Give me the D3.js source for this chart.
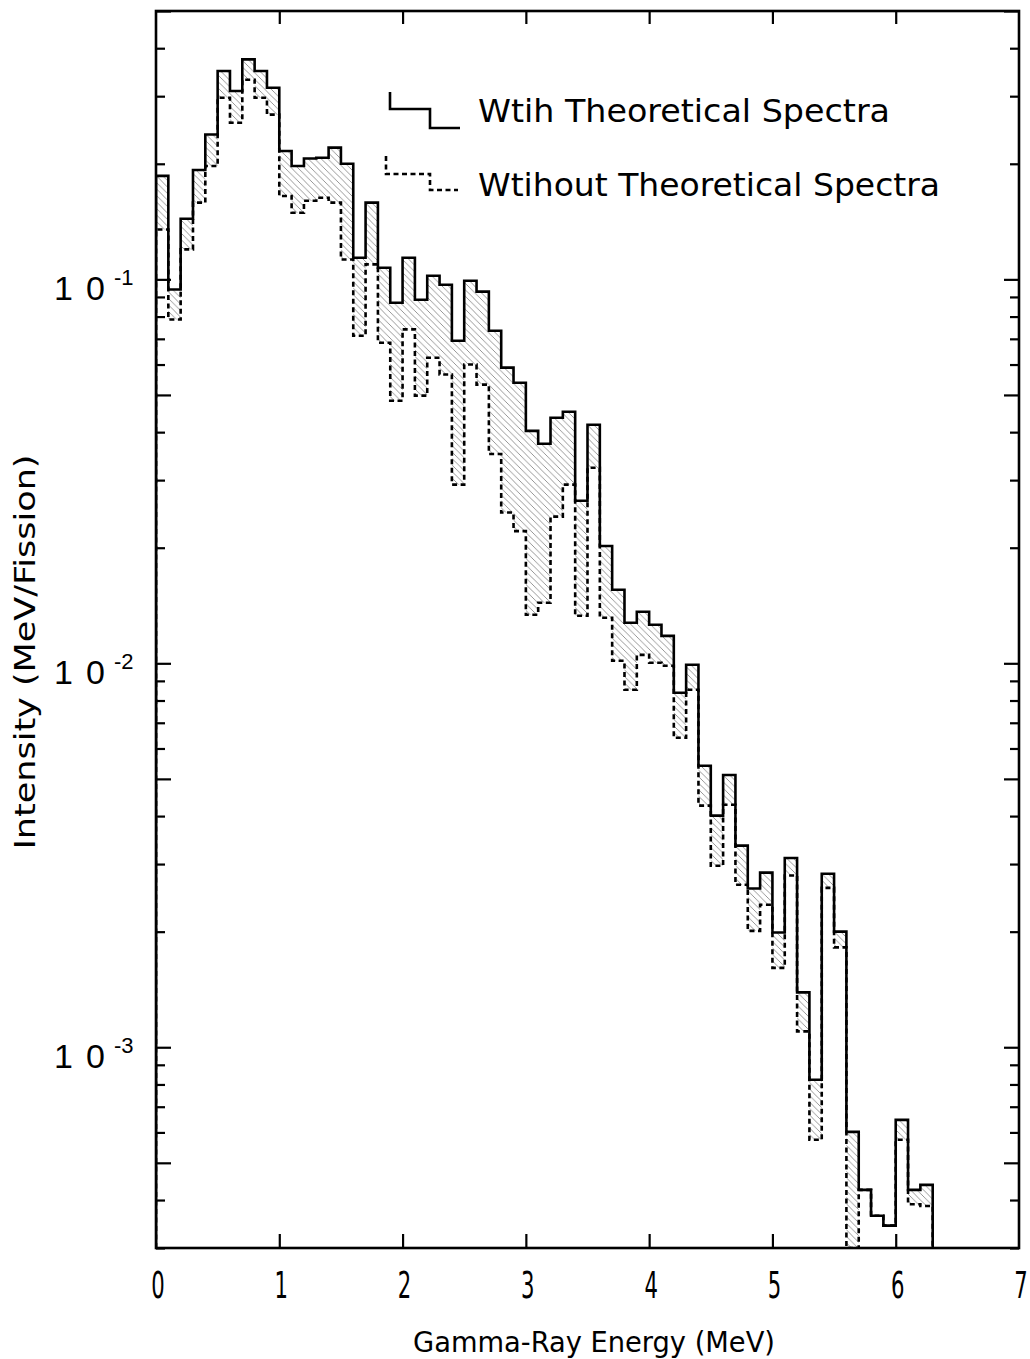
<!DOCTYPE html>
<html><head><meta charset="utf-8">
<script src="https://cdn.jsdelivr.net/npm/d3@7"></script>
<style>html,body{margin:0;padding:0;background:#fff;} svg{display:block;}</style>
</head><body><svg id="chart" width="1030" height="1359"></svg>
<script>
// ---- data ----
const binEdges = [0.0,0.1,0.2,0.3,0.4,0.5,0.6,0.7,0.8,0.9,1.0,1.1,1.2,1.3,1.4,1.5,1.6,1.7,1.8,1.9,
  2.0,2.1,2.2,2.3,2.4,2.5,2.6,2.7,2.8,2.9,3.0,3.1,3.2,3.3,3.4,3.5,3.6,3.7,3.8,3.9,
  4.0,4.1,4.2,4.3,4.4,4.5,4.6,4.7,4.8,4.9,5.0,5.1,5.2,5.3,5.4,5.5,5.6,5.7,5.8,5.9,
  6.0,6.1,6.2,6.3];
const withTheory = [0.186,0.0941,0.1438,0.1927,0.2385,0.3488,0.3094,0.374,0.349,0.3155,
  0.2159,0.1973,0.2065,0.2073,0.2203,0.200,0.1138,0.1584,0.1072,0.0869,
  0.1138,0.0885,0.1022,0.0968,0.0692,0.0992,0.0929,0.0735,0.0589,0.0538,
  0.0403,0.0373,0.0436,0.0452,0.0265,0.0418,0.0202,0.01554,0.01275,0.01362,
  0.0126,0.01179,0.00838,0.00991,0.00541,0.00401,0.00512,0.00335,0.00259,0.00285,
  0.00199,0.00311,0.00139,0.000823,0.00283,0.0020,0.000602,0.000425,0.000364,0.000343,
  0.000647,0.000425,0.000438];
const withoutTheory = [0.1349,0.0786,0.1197,0.1584,0.1973,0.2972,0.2559,0.3311,0.2972,0.2685,
  0.1649,0.1491,0.1603,0.1631,0.1584,0.1127,0.0713,0.1094,0.0684,0.0483,
  0.0741,0.0498,0.0625,0.0565,0.0292,0.060,0.0532,0.0351,0.0247,0.0221,
  0.01338,0.01438,0.0241,0.0292,0.0133,0.0323,0.01314,0.01015,0.00853,0.01052,
  0.01003,0.00985,0.0064,0.00853,0.00426,0.00297,0.00428,0.00265,0.00201,0.00235,
  0.00161,0.0028,0.0011,0.000574,0.0026,0.00182,0.00025,0.000425,0.000364,0.000343,
  0.000574,0.00039,0.000386];
const xTickValues = [0,1,2,3,4,5,6,7];
const yDecades = [1e-1,1e-2,1e-3];
const yDecadeDigits = ["1","0"];
const yDecadeExp = ["-1","-2","-3"];
const legendLabels = ["Wtih Theoretical Spectra","Wtihout Theoretical Spectra"];
const xTitle = "Gamma-Ray Energy (MeV)";
const yTitle = "Intensity (MeV/Fission)";

// ---- layout ----
const L = 156, R = 1019, T = 11, B = 1248;
const x = d3.scaleLinear().domain([0,7]).range([L,R]);
const y = d3.scaleLog().domain([3e-4,0.5]).range([B,T]).clamp(true);
const svg = d3.select("#chart");
const condensed = "'DejaVu Sans Condensed','Liberation Sans Narrow','Liberation Sans',sans-serif";

const defs = svg.append("defs");
defs.append("clipPath").attr("id","plotclip").append("rect")
  .attr("x",L).attr("y",T).attr("width",R-L).attr("height",B-T);
const pat = defs.append("pattern").attr("id","hatch").attr("patternUnits","userSpaceOnUse")
  .attr("width",6.5).attr("height",6.5);
pat.append("path").attr("d","M-1,-1 L7.5,7.5 M-1,5.5 L1,7.5 M5.5,-1 L7.5,1")
  .attr("stroke","#858585").attr("stroke-width",0.85).attr("fill","none");

const plot = svg.append("g").attr("clip-path","url(#plotclip)");

// hatched region between the two spectra
const bins = withTheory.map((v,i)=>({e:binEdges[i], hi:v, lo:withoutTheory[i]}));
const lastBin = bins[bins.length-1];
const areaData = bins.concat([{e:binEdges[binEdges.length-1], hi:lastBin.hi, lo:lastBin.lo}]);
plot.append("path").datum(areaData)
  .attr("d", d3.area().curve(d3.curveStepAfter)
    .x(d=>x(d.e)).y0(d=>y(d.lo)).y1(d=>y(d.hi)))
  .attr("fill","url(#hatch)").attr("stroke","none");

function stepPoints(vals){
  const pts = [[binEdges[0], 1e-6]];
  vals.forEach((v,i)=>{ pts.push([binEdges[i], v]); pts.push([binEdges[i+1], v]); });
  pts.push([binEdges[vals.length], 1e-6]);
  return pts;
}
const line = d3.line().x(d=>x(d[0])).y(d=>y(d[1]));
plot.append("path").datum(stepPoints(withoutTheory)).attr("d",line)
  .attr("fill","none").attr("stroke","#000").attr("stroke-width",2.6)
  .attr("stroke-dasharray","5,3.5");
plot.append("path").datum(stepPoints(withTheory)).attr("d",line)
  .attr("fill","none").attr("stroke","#000").attr("stroke-width",2.6)
  .attr("stroke-linejoin","miter");

// ---- axes ----
const minorVals = [];
[-4,-3,-2,-1].forEach(k=>{ for(let m=1;m<=9;m++){ const v=m*Math.pow(10,k); if(v>=3e-4-1e-12 && v<=0.5+1e-12) minorVals.push(v);} });
const longVals = minorVals.filter(v=>{ const m = Math.round(v/Math.pow(10,Math.floor(Math.log10(v)+1e-9))); return m===1||m===5; });
const shortVals = minorVals.filter(v=>!longVals.includes(v));
function styleAxis(g){ g.select(".domain").remove(); g.selectAll("text").remove();
  g.selectAll("line").attr("stroke","#000").attr("stroke-width",2.2); }
svg.append("g").attr("transform",`translate(${L},0)`)
  .call(d3.axisLeft(y).tickValues(shortVals).tickSizeInner(-9).tickSizeOuter(0)).call(styleAxis);
svg.append("g").attr("transform",`translate(${L},0)`)
  .call(d3.axisLeft(y).tickValues(longVals).tickSizeInner(-15).tickSizeOuter(0)).call(styleAxis);
svg.append("g").attr("transform",`translate(${R},0)`)
  .call(d3.axisRight(y).tickValues(shortVals).tickSizeInner(-9).tickSizeOuter(0)).call(styleAxis);
svg.append("g").attr("transform",`translate(${R},0)`)
  .call(d3.axisRight(y).tickValues(longVals).tickSizeInner(-15).tickSizeOuter(0)).call(styleAxis);
const innerX = xTickValues.filter(v=>v>0 && v<7);
svg.append("g").attr("transform",`translate(0,${B})`)
  .call(d3.axisBottom(x).tickValues(innerX).tickSizeInner(-14).tickSizeOuter(0)).call(styleAxis);
svg.append("g").attr("transform",`translate(0,${T})`)
  .call(d3.axisTop(x).tickValues(innerX).tickSizeInner(-13).tickSizeOuter(0)).call(styleAxis);

// frame
svg.append("rect").attr("x",L).attr("y",T).attr("width",R-L).attr("height",B-T)
  .attr("fill","none").attr("stroke","#000").attr("stroke-width",2.6);

// x tick labels
svg.append("g").selectAll("text").data(xTickValues).join("text")
  .attr("x",0).attr("y",0).attr("text-anchor","middle")
  .attr("font-family",condensed).attr("font-size",38).attr("font-weight",300).attr("fill","#000")
  .attr("transform",d=>`translate(${x(d)+2},1298) scale(0.62,1)`)
  .text(d=>d);

// y decade labels: "1 0" with superscript exponent
const labFont = "'Liberation Sans',Arial,sans-serif";
const yLab = svg.append("g").selectAll("g").data(yDecades).join("g");
yLab.append("text").attr("x",54).attr("y",d=>y(d)+21)
  .attr("font-family",labFont).attr("font-size",34).attr("fill","#000").text(yDecadeDigits[0]);
yLab.append("text").attr("x",86).attr("y",d=>y(d)+21)
  .attr("font-family",labFont).attr("font-size",34).attr("fill","#000").text(yDecadeDigits[1]);
yLab.append("text").attr("x",114).attr("y",d=>y(d)+6)
  .attr("font-family",labFont).attr("font-size",22).attr("fill","#000").text((d,i)=>yDecadeExp[i]);

// axis titles
svg.append("text").attr("x",594).attr("y",1352).attr("text-anchor","middle")
  .attr("font-family",condensed).attr("font-size",29).attr("fill","#000")
  .attr("textLength",362).attr("lengthAdjust","spacingAndGlyphs").text(xTitle);
svg.append("text").attr("transform","translate(35,652) rotate(-90)").attr("text-anchor","middle")
  .attr("font-family",condensed).attr("font-size",29).attr("fill","#000")
  .attr("textLength",395).attr("lengthAdjust","spacingAndGlyphs").text(yTitle);

// legend
const leg = svg.append("g");
leg.append("path").attr("d","M390,92 V109 H430 V128 H460").attr("fill","none")
  .attr("stroke","#000").attr("stroke-width",2.6);
leg.append("path").attr("d","M386,156 V174 H430 V190 H458").attr("fill","none")
  .attr("stroke","#000").attr("stroke-width",2.6).attr("stroke-dasharray","5,3.5");
leg.selectAll("text.lg").data(legendLabels).join("text").attr("class","lg")
  .attr("x",478).attr("y",(d,i)=>i===0?122:196)
  .attr("font-family",condensed).attr("font-size",32).attr("fill","#000")
  .attr("textLength",(d,i)=>i===0?412:462).attr("lengthAdjust","spacingAndGlyphs")
  .text(d=>d);
</script></body></html>
